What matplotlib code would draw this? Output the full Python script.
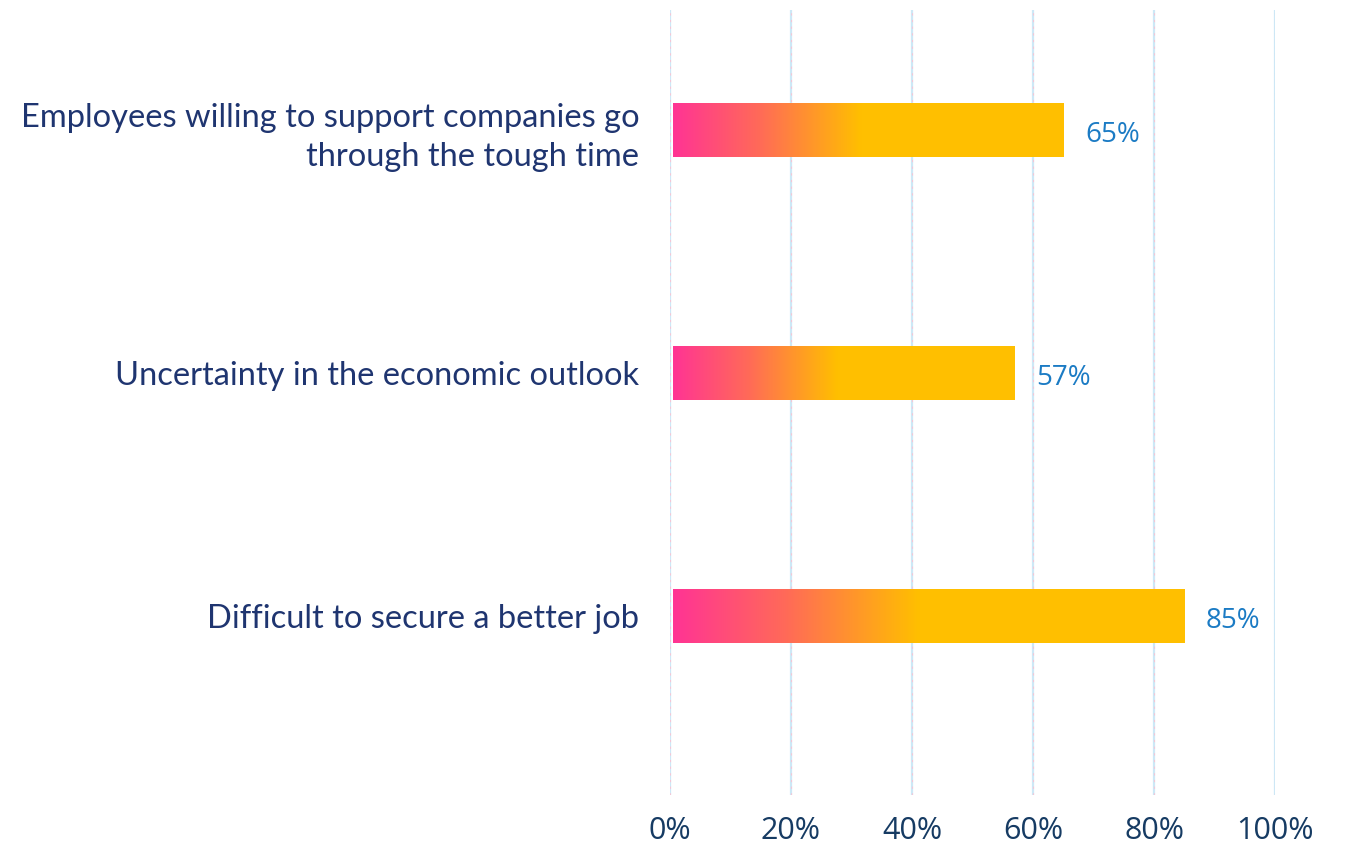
import matplotlib.pyplot as plt
import numpy as np
from matplotlib.colors import LinearSegmentedColormap

plt.rcParams['font.family'] = ['Open Sans', 'DejaVu Sans']

categories = ['Employees willing to support companies go\nthrough the tough time',
              'Uncertainty in the economic outlook',
              'Difficult to secure a better job']
values = [65, 57, 85]
ticks = [0, 20, 40, 60, 80, 100]
tick_labels = ['0%', '20%', '40%', '60%', '80%', '100%']

fig = plt.figure(figsize=(13.48, 8.52), dpi=100)
ax = fig.add_axes([670 / 1348, 1 - 795 / 852, 605 / 1348, 785 / 852])

# gradient: pink -> orange -> yellow, flat yellow after ~48% of the bar
cmap = LinearSegmentedColormap.from_list(
    'bar', [(0, '#FF3494'), (0.22, '#FF6A58'), (0.48, '#FFBF00'), (1, '#FFC000')])
grad = np.linspace(0, 1, 256).reshape(1, -1)

bh = 0.22
for i, v in enumerate(values):
    ax.imshow(grad, cmap=cmap, aspect='auto', extent=(0.5, v, i + bh / 2, i - bh / 2),
              zorder=3)
    ax.text(v + 3.6, i + 0.02, f'{v}%', color='#1B7BC4', fontsize=20,
            va='center', ha='left')

for t in ticks:
    ax.axvline(t, color='#CDE8F6', lw=1.6, zorder=1)
    ax.axvline(t, color='#F4C6D6', lw=0.8, ls=(0, (2, 4)), zorder=1.5)

ax.set_xlim(0, 100)
ax.set_ylim(2.737, -0.494)
ax.set_xticks(ticks)
ax.set_xticklabels(tick_labels, color='#163B63', fontsize=22)
ax.set_yticks(range(len(categories)))
ax.set_yticklabels(categories, color='#1F3570', fontsize=23.5, linespacing=1.38,
                   family=['Lato', 'DejaVu Sans'])
ax.tick_params(axis='x', length=0, pad=15)
ax.tick_params(axis='y', length=0, pad=22)
for s in ax.spines.values():
    s.set_visible(False)

fig.savefig('out.png', dpi=100)
